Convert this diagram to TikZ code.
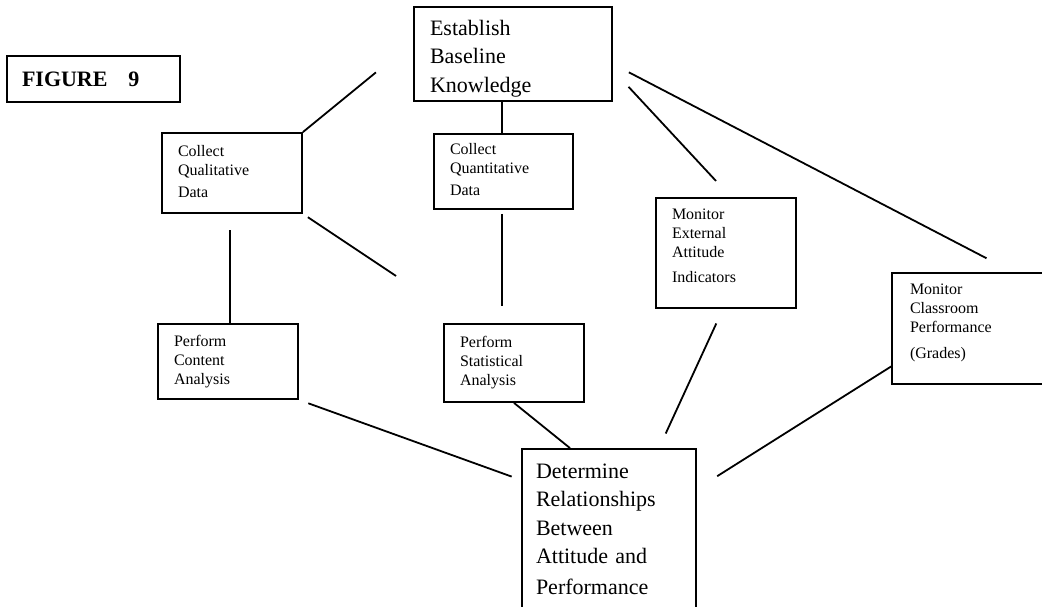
\documentclass[tikz,border=0pt]{standalone}
\usepackage{fontspec}
\setmainfont{Liberation Serif}
\usetikzlibrary{positioning}

% invisible struts to push box text up or down
\newcommand{\padtop}[1]{\rule{0pt}{#1}}
\newcommand{\padbot}[1]{\rule[-#1]{0pt}{#1}}

\tikzset{
  box/.style={draw, rectangle, align=left, inner xsep=16pt, inner ysep=2pt,
              font=\fontsize{16}{19}\selectfont},
  bigbox/.style={box, font=\fontsize{22}{28.5}\selectfont}
}

\begin{document}
\begin{tikzpicture}[x=1pt,y=-1pt,line width=1.8pt]
\path[use as bounding box] (0,0) rectangle (1042,607);
\clip (0,0) rectangle (1042,607);

\node[box, font=\bfseries\fontsize{22}{26}\selectfont, inner xsep=15pt, text width=143pt, minimum height=46pt](fig) at (93.5,79) {FIGURE\hspace{0.95em}9};
\node[bigbox, text width=166pt, minimum height=94pt](ebk) at (513,54) {\padtop{24pt}Establish\\ Baseline\\ Knowledge};
\node[box, text width=108pt, minimum height=80pt](cqual) at (232,173) {Collect\\ Qualitative\\[3pt] Data\padbot{4pt}};
\node[box, text width=107pt, minimum height=75pt](cquan) at (503.5,171.5) {Collect\\ Quantitative\\[3pt] Data\padbot{4pt}};
\node[box, text width=108pt, minimum height=110pt](mext) at (726,253) {Monitor\\ External\\ Attitude\\[6pt] Indicators\padbot{15pt}};
\node[box, inner xsep=18pt, text width=124pt, minimum height=111pt](mclass) at (972,328.5) {Monitor\\ Classroom\\ Performance\\[7pt] (Grades)\padbot{15pt}};
\node[box, text width=108pt, minimum height=75pt](pca) at (228,361.5) {Perform\\ Content\\ Analysis};
\node[box, text width=108pt, minimum height=78pt](pstat) at (514,363) {Perform\\ Statistical\\ Analysis};
\node[bigbox, inner xsep=14pt, text width=146pt, minimum height=160pt](det) at (609,529) {Determine\\ Relationships\\ Between\\ Attitude and\\[2pt] Performance};

\coordinate (qa) at (396,276);

\draw (cqual.north east) edge[shorten >=48pt] ([yshift=12pt]ebk.west)
      ([xshift=-1.5pt]cquan.north) edge ([xshift=-1.5pt]cquan.north |- ebk.south)
      ([yshift=-10pt]ebk.east) edge[shorten <=18pt, shorten >=30pt] ([xshift=122pt]mclass.north west)
      ([yshift=-16pt]ebk.east) edge[shorten <=23pt, shorten >=22pt] ([xshift=5pt]mext.north)
      (cqual.south east) edge[shorten <=6pt] (qa)
      ([xshift=2pt]pca.north) edge[shorten >=16pt] ([xshift=2pt]pca.north |- cqual.south)
      ([xshift=-1.5pt]cquan.south) edge[shorten <=4pt, shorten >=17pt] ([xshift=-1.5pt]cquan.south |- pstat.north)
      ([xshift=-3pt]mext.south) edge[shorten <=16pt, shorten >=16pt] ([xshift=50pt]det.north)
      ([yshift=-38pt]mclass.west) edge[shorten >=24pt] ([yshift=40pt]det.east)
      (pca.south east) edge[shorten <=10pt, shorten >=10pt] ([yshift=49pt]det.west)
      (pstat.south) edge ([xshift=-39pt]det.north)
      ;

\end{tikzpicture}
\end{document}
